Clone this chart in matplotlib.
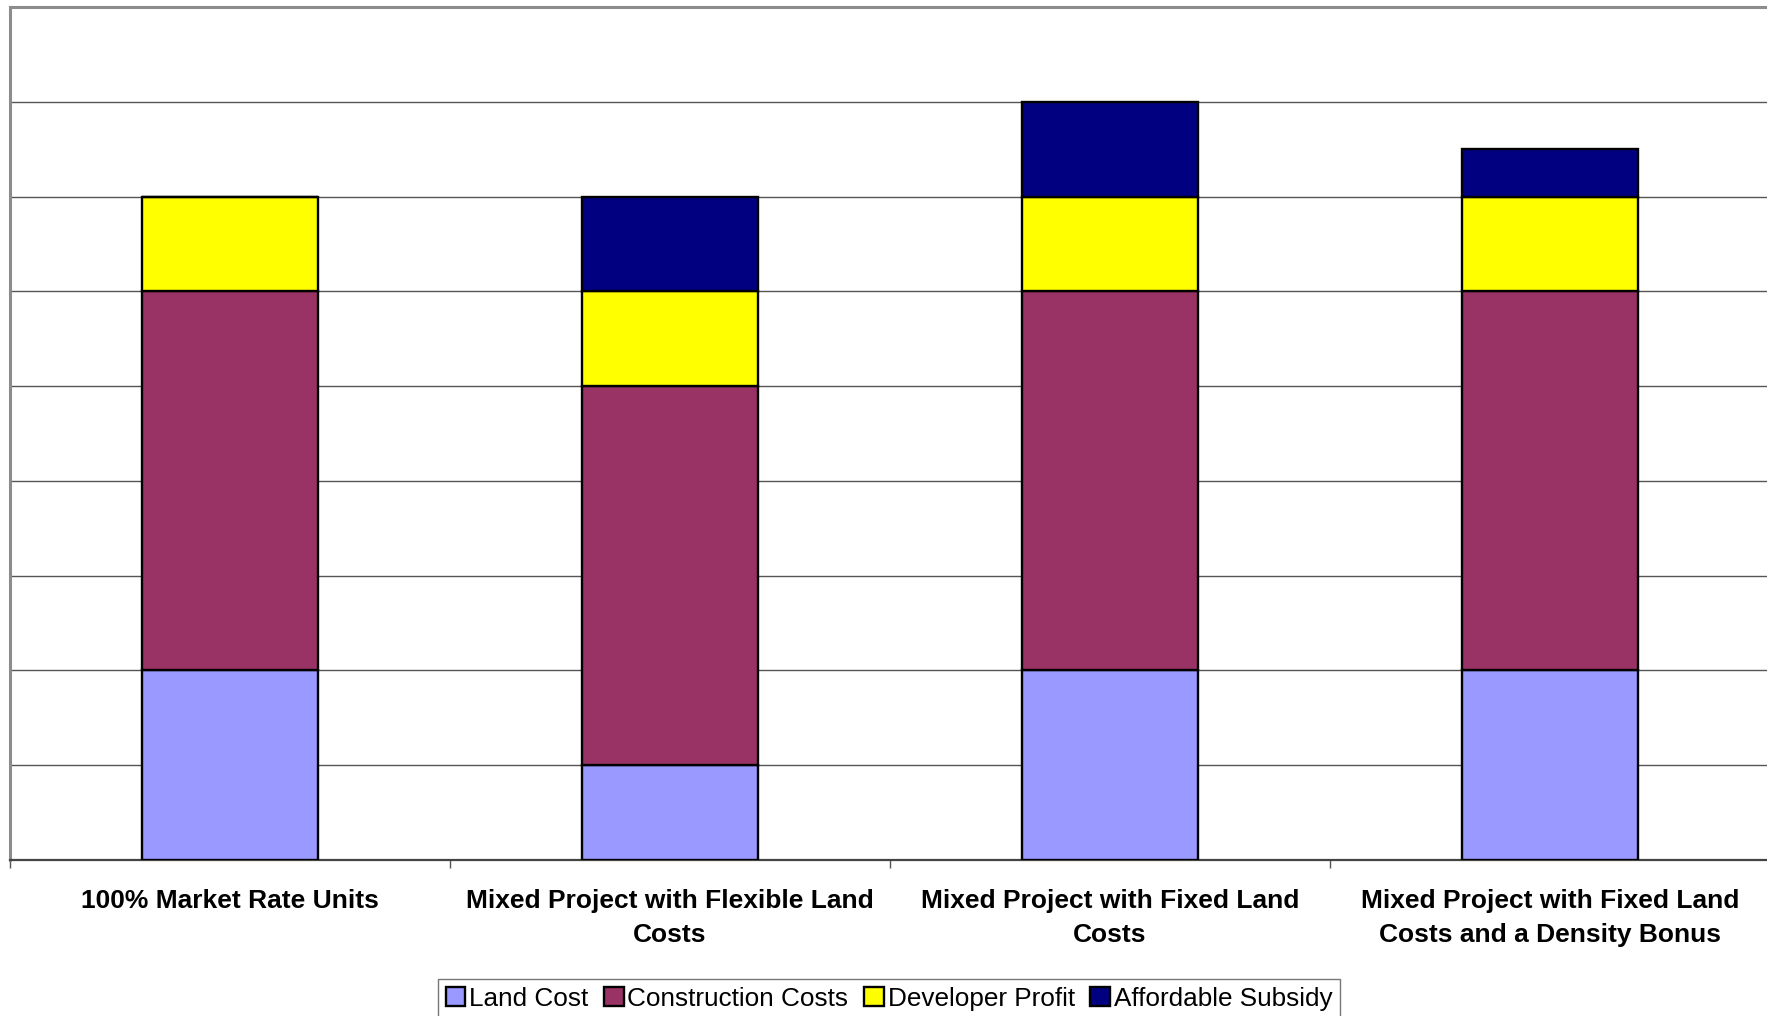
import matplotlib
matplotlib.use("Agg")
import matplotlib.pyplot as plt
import numpy as np

categories = [
    "100% Market Rate Units",
    "Mixed Project with Flexible Land\nCosts",
    "Mixed Project with Fixed Land\nCosts",
    "Mixed Project with Fixed Land\nCosts and a Density Bonus",
]
series_names = ["Land Cost", "Construction Costs", "Developer Profit", "Affordable Subsidy"]
land_cost = [2, 1, 2, 2]
construction_costs = [4, 4, 4, 4]
developer_profit = [1, 1, 1, 1]
affordable_subsidy = [0, 1, 1, 0.5]
colors = ["#9999FF", "#993366", "#FFFF00", "#000080"]

plt.rcParams["font.family"] = ["Liberation Sans", "DejaVu Sans"]

fig = plt.figure(figsize=(17.67, 10.16), dpi=100)
ax = fig.add_axes([10 / 1767, 1 - 860 / 1016, 1760 / 1767, 853 / 1016])

x = np.arange(len(categories))
bottom = np.zeros(len(categories))
handles = []
for name, vals, col in zip(series_names,
                           [land_cost, construction_costs, developer_profit, affordable_subsidy],
                           colors):
    vals = np.array(vals, dtype=float)
    b = ax.bar(x, vals, width=0.4, bottom=bottom, color=col, edgecolor="black",
               linewidth=1.7, label=name, zorder=3)
    handles.append(b)
    bottom += vals

ax.set_xlim(-0.5, 3.5)
ax.set_ylim(0, 9)
ax.set_yticks(np.arange(1, 9))
ax.yaxis.grid(True, color="#555555", linewidth=1.0, zorder=0)
ax.tick_params(axis="y", length=0, labelleft=False)

ax.set_xticks(x)
ax.set_xticklabels(categories, fontsize=19, fontweight="bold", linespacing=1.5)
ax.tick_params(axis="x", which="major", length=0, pad=21)
ax.set_xticks(np.arange(-0.5, 4.0, 1.0), minor=True)
ax.tick_params(axis="x", which="minor", length=6, width=1.0, color="#555555", direction="out")

for side in ["left", "top"]:
    ax.spines[side].set_color("#8c8c8c")
    ax.spines[side].set_linewidth(2.2)
ax.spines["right"].set_visible(False)
ax.spines["bottom"].set_color("#444444")
ax.spines["bottom"].set_linewidth(1.6)

leg = fig.legend(handles=handles, labels=series_names, loc="upper center",
                 bbox_to_anchor=(889 / 1767, 1 - 979 / 1016), ncol=4,
                 fontsize=18.8, frameon=True, fancybox=False, edgecolor="#555555",
                 handlelength=0.75, handleheight=0.75, handletextpad=0.15,
                 columnspacing=0.6, borderpad=0.3, borderaxespad=0)
leg.get_frame().set_linewidth(1.0)

fig.savefig("out.png", dpi=100)
